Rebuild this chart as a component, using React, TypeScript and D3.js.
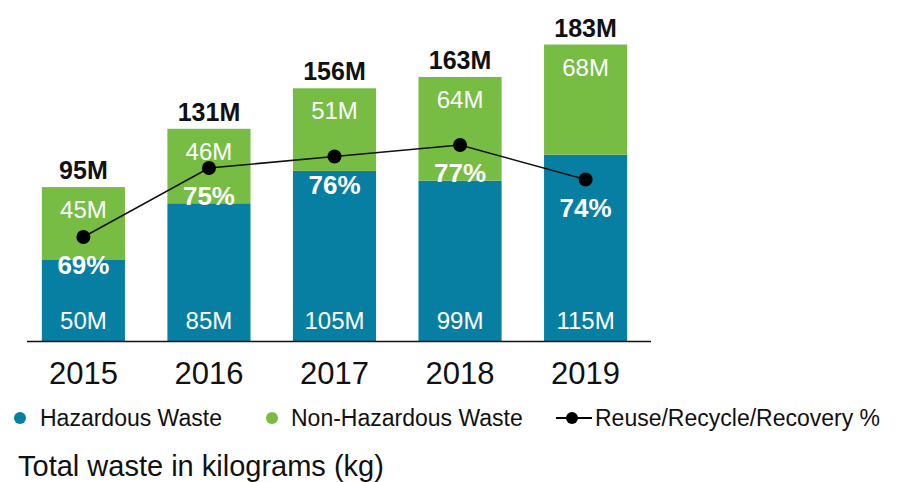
import React from 'react';
import * as d3 from 'd3';

const years = ['2015', '2016', '2017', '2018', '2019'];
const hazardous = [50, 85, 105, 99, 115];
const nonHazardous = [45, 46, 51, 64, 68];
const totals = [95, 131, 156, 163, 183];
const recoveryPct = [69, 75, 76, 77, 74];

const BLUE = '#077fa2';
const GREEN = '#77bc43';
const FONT = '"Liberation Sans", Arial, Helvetica, sans-serif';

const App: React.FC = () => {
  const width = 902;
  const height = 482;
  const baseline = 341;

  const x = d3.scaleBand<string>()
    .domain(years)
    .range([20.5, 648.5])
    .paddingInner(0.338)
    .paddingOuter(0.17);

  // single value scale for the stacked bars
  const y = d3.scaleLinear().domain([0, 200]).range([baseline, baseline - 324]);

  // scale for the recovery % line
  const yPct = d3.scaleLinear().domain([60, 80]).range([340.5, 110.5]);

  const stacked = d3.stack<number>()
    .keys(['haz', 'non'])
    .value((i, key) => (key === 'haz' ? hazardous[i] : nonHazardous[i]))(
      years.map((_, i) => i)
    );

  const colors = [BLUE, GREEN];
  const cx = (i: number) => (x(years[i]) ?? 0) + x.bandwidth() / 2;

  const line = d3.line<number>()
    .x((_, i) => cx(i))
    .y((d) => yPct(d));

  return (
    <svg width={width} height={height} style={{ position: 'absolute', left: 0, top: 0, background: '#fff' }}
      fontFamily={FONT}>
      {/* bars */}
      {stacked.map((layer, li) => (
        <g key={layer.key}>
          {layer.map((d, i) => (
            <rect
              key={years[i]}
              x={x(years[i])}
              y={y(d[1])}
              width={x.bandwidth()}
              height={y(d[0]) - y(d[1])}
              fill={colors[li]}
            />
          ))}
        </g>
      ))}

      {/* axis line */}
      <line x1={27} x2={651} y1={baseline + 0.5} y2={baseline + 0.5} stroke="#111" strokeWidth={1.5} />

      {/* year labels */}
      {years.map((yr, i) => (
        <text key={yr} x={cx(i)} y={384} textAnchor="middle" fontSize={31} fill="#111">{yr}</text>
      ))}

      {/* segment labels */}
      {hazardous.map((v, i) => (
        <text key={'h' + i} x={cx(i)} y={baseline - 12} textAnchor="middle" fontSize={24} fill="#fff">{v}M</text>
      ))}
      {nonHazardous.map((v, i) => (
        <text key={'n' + i} x={cx(i)} y={y(totals[i]) + 31} textAnchor="middle" fontSize={24} fill="#fff">{v}M</text>
      ))}
      {totals.map((v, i) => (
        <text key={'t' + i} x={cx(i)} y={y(totals[i]) - 8} textAnchor="middle" fontSize={25} fontWeight="bold" fill="#111">{v}M</text>
      ))}

      {/* recovery line */}
      <path d={line(recoveryPct) ?? ''} fill="none" stroke="#111" strokeWidth={1.5} />
      {recoveryPct.map((p, i) => (
        <g key={'p' + i}>
          <circle cx={cx(i)} cy={yPct(p)} r={7} fill="#000" />
          <text x={cx(i)} y={yPct(p) + 37} textAnchor="middle" fontSize={26} fontWeight="bold" fill="#fff">{p}%</text>
        </g>
      ))}

      {/* legend */}
      <g fontSize={23} fill="#111">
        <circle cx={20} cy={418} r={6} fill={BLUE} />
        <text x={40} y={426}>Hazardous Waste</text>
        <circle cx={272} cy={418} r={6} fill={GREEN} />
        <text x={291} y={426}>Non-Hazardous Waste</text>
        <line x1={556} x2={592} y1={418} y2={418} stroke="#000" strokeWidth={2} />
        <circle cx={572} cy={418} r={6} fill="#000" />
        <text x={595} y={426}>Reuse/Recycle/Recovery %</text>
      </g>

      <text x={18} y={476} fontSize={29} fill="#111">Total waste in kilograms (kg)</text>
    </svg>
  );
};

export default App;
